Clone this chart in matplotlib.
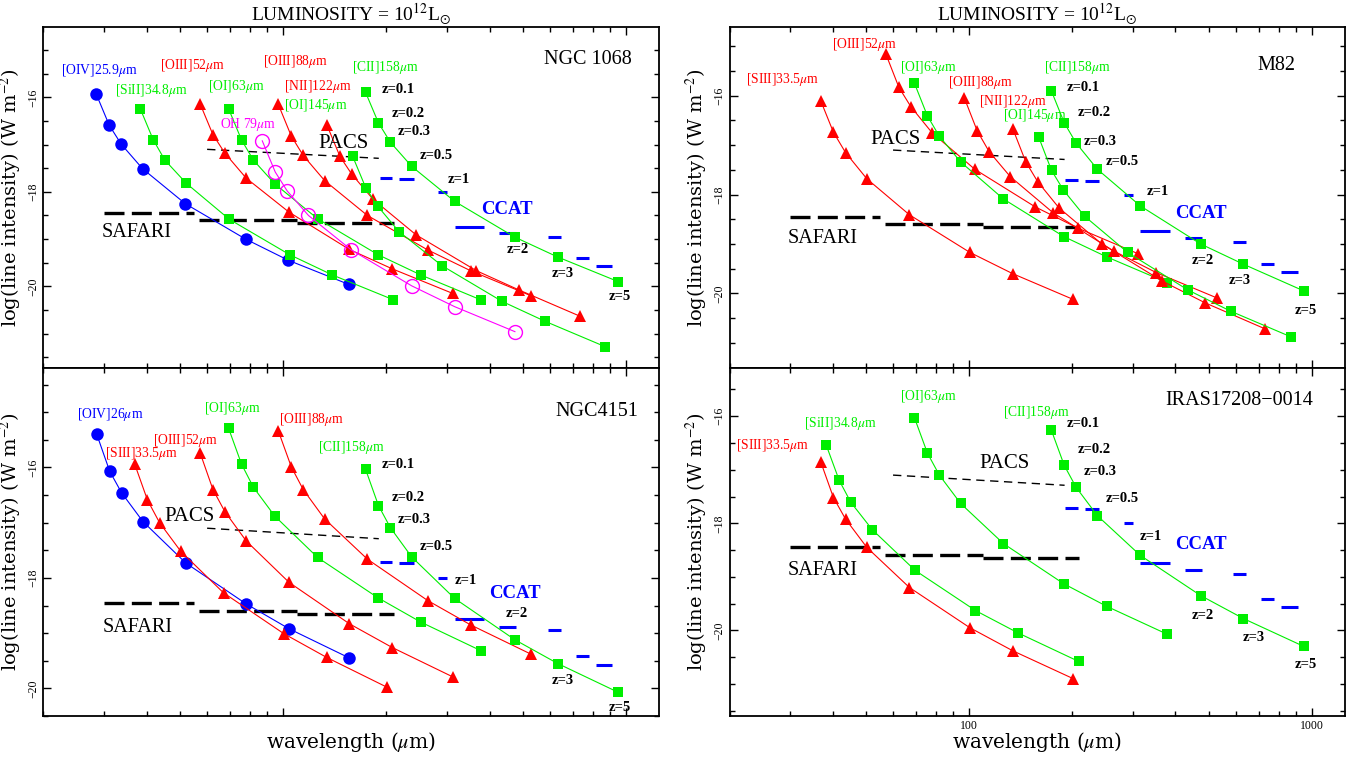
import numpy as np
import matplotlib
matplotlib.use("Agg")
import matplotlib.pyplot as plt
from matplotlib.ticker import FixedLocator, NullFormatter, FixedFormatter

plt.rcParams['font.family'] = ['Liberation Serif', 'DejaVu Serif']
plt.rcParams['mathtext.fontset'] = 'stix'

# ---------------- data ----------------
Z_LABELS = ["z=0.1", "z=0.2", "z=0.3", "z=0.5", "z=1", "z=2", "z=3", "z=5"]

# observed wavelengths (micron) of each line at z = 0.1, 0.2, 0.3, 0.5, 1, 2, 3, 5
wl_oiv259 = [28.5, 31.1, 33.7, 38.9, 51.8, 77.7, 103.6, 155.4]
wl_oiv26 = [28.6, 31.2, 33.8, 39.0, 52.0, 78.0, 104.0, 156.0]
wl_siii335 = [36.9, 40.2, 43.6, 50.3, 67.0, 100.5, 134.0, 201.0]
wl_siii348 = [38.3, 41.8, 45.2, 52.2, 69.6, 104.4, 139.2, 208.8]
wl_oiii52 = [57.2, 62.4, 67.6, 78.0, 104.0, 156.0, 208.0, 312.0]
wl_oi63 = [69.3, 75.6, 81.9, 94.5, 126.0, 189.0, 252.0, 378.0]
wl_oh79 = [86.9, 94.8, 102.7, 118.5, 158.0, 237.0, 316.0, 474.0]
wl_oiii88 = [96.8, 105.6, 114.4, 132.0, 176.0, 264.0, 352.0, 528.0]
wl_nii122 = [134.2, 146.4, 158.6, 183.0, 244.0, 366.0, 488.0, 732.0]
wl_oi145 = [159.5, 174.0, 188.5, 217.5, 290.0, 435.0, 580.0, 870.0]
wl_cii158 = [173.8, 189.6, 205.4, 237.0, 316.0, 474.0, 632.0, 948.0]

# log line intensities (W m^-2)
ngc1068_oiv = [-15.93, -16.59, -16.99, -17.51, -18.25, -19.00, -19.45, -19.96]
ngc1068_siii348 = [-16.24, -16.90, -17.33, -17.82, -18.58, -19.33, -19.76, -20.28]
ngc1068_oiii52 = [-16.13, -16.79, -17.18, -17.71, -18.43, -19.22, -19.63, -20.15]
ngc1068_oi63 = [-16.24, -16.90, -17.33, -17.83, -18.57, -19.33, -19.76, -20.29]
ngc1068_oh79 = [-16.92, -17.58, -17.98, -18.50, -19.23, -19.99, -20.43, -20.96]
ngc1068_oiii88 = [-16.15, -16.82, -17.23, -17.76, -18.50, -19.23, -19.67, -20.20]
ngc1068_nii122 = [-16.59, -17.25, -17.63, -18.16, -18.91, -19.67, -20.08, -20.63]
ngc1068_oi145 = [-17.25, -17.91, -18.30, -18.84, -19.56, -20.32, -20.74, -21.28]
ngc1068_cii = [-15.89, -16.54, -16.95, -17.46, -18.20, -18.96, -19.38, -19.90]

m82_siii335 = [-16.10, -16.74, -17.15, -17.68, -18.41, -19.17, -19.60, -20.12]
m82_oiii52 = [-15.16, -15.83, -16.22, -16.75, -17.49, -18.25, -18.68, -19.20]
m82_oi63 = [-15.75, -16.41, -16.82, -17.34, -18.09, -18.85, -19.26, -19.78]
m82_oiii88 = [-16.04, -16.71, -17.13, -17.64, -18.37, -19.14, -19.58, -20.09]
m82_nii122 = [-16.67, -17.34, -17.74, -18.27, -19.00, -19.75, -20.19, -20.72]
m82_oi145 = [-16.83, -17.51, -17.91, -18.44, -19.17, -19.93, -20.36, -20.88]
m82_cii = [-15.90, -16.55, -16.96, -17.49, -18.23, -19.00, -19.41, -19.95]

n4151_oiv26 = [-15.40, -16.07, -16.46, -16.98, -17.73, -18.47, -18.92, -19.45]
n4151_siii335 = [-15.94, -16.59, -17.00, -17.52, -18.27, -19.01, -19.44, -19.98]
n4151_oiii52 = [-15.73, -16.40, -16.80, -17.33, -18.08, -18.83, -19.26, -19.79]
n4151_oi63 = [-15.29, -15.94, -16.36, -16.88, -17.63, -18.36, -18.80, -19.32]
n4151_oiii88 = [-15.34, -15.99, -16.40, -16.93, -17.66, -18.41, -18.85, -19.38]
n4151_cii = [-16.03, -16.69, -17.09, -17.62, -18.37, -19.12, -19.55, -20.07]

iras_siii335 = [-16.85, -17.52, -17.92, -18.45, -19.20, -19.95, -20.38, -20.90]
iras_siii348 = [-16.54, -17.20, -17.61, -18.12, -18.88, -19.63, -20.05, -20.58]
iras_oi63 = [-16.03, -16.69, -17.10, -17.63, -18.38, -19.13, -19.55, -20.07]
iras_cii = [-16.26, -16.92, -17.33, -17.86, -18.60, -19.35, -19.78, -20.30]

# instrument sensitivities
pacs_wl = [60, 190]
pacs_lim = [-17.10, -17.29]
safari_wl = [(30, 55), (57, 110), (110, 210)]
safari_lim = [-18.45, -18.60, -18.65]
ccat_wl = [(191, 208), (218, 240), (283, 300), (316, 386), (426, 479),
           (591, 645), (713, 778), (815, 910)]
ccat_lim = [-17.71, -17.73, -18.00, -18.74, -18.88, -18.95, -19.41, -19.57]

RED = '#ff0000'
GREEN = '#00ee00'
BLUE = '#0000ff'
MAG = '#ff00ff'

MU = r'$\mu$m'

# ---------------- figure ----------------
fig = plt.figure(figsize=(13.55, 7.61), dpi=100)
ax_tl = fig.add_axes([0.0321, 0.5164, 0.4545, 0.4481])
ax_tr = fig.add_axes([0.5384, 0.5164, 0.4542, 0.4481])
ax_bl = fig.add_axes([0.0321, 0.0591, 0.4545, 0.4573])
ax_br = fig.add_axes([0.5384, 0.0591, 0.4542, 0.4573])


def style(ax, ylim, xlabels):
    ax.set_xscale('log')
    ax.set_xlim(20, 1250)
    ax.set_ylim(*ylim)
    ax.xaxis.set_major_locator(FixedLocator([100, 1000]))
    ax.xaxis.set_minor_locator(FixedLocator([20, 30, 40, 50, 60, 70, 80, 90,
                                             200, 300, 400, 500, 600, 700, 800, 900]))
    ax.xaxis.set_minor_formatter(NullFormatter())
    if xlabels:
        ax.xaxis.set_major_formatter(FixedFormatter(['100', '1000']))
    else:
        ax.xaxis.set_major_formatter(NullFormatter())
    ax.yaxis.set_major_locator(FixedLocator([-16, -18, -20]))
    ax.yaxis.set_minor_locator(FixedLocator(list(np.arange(-22.0, -14.0, 0.5))))
    ax.yaxis.set_major_formatter(FixedFormatter(['\u221216', '\u221218', '\u221220']))
    for lab in ax.get_yticklabels():
        lab.set_rotation(90)
        lab.set_va('center')
    ax.tick_params(which='both', direction='in', top=True, right=True,
                   labelsize=8.5, pad=3)
    ax.tick_params(which='major', length=6, width=1)
    ax.tick_params(which='minor', length=3.5, width=1)
    for s in ax.spines.values():
        s.set_linewidth(1.3)
    ax.set_ylabel('log(line intensity) (W m$^{-2}$)', fontsize=14,
                  family='DejaVu Serif')
    ax.yaxis.set_label_coords(-0.031, 0.5)


def series(ax, x, y, color, marker, ms, open_=False):
    ax.plot(x, y, '-', color=color, lw=0.8, marker=marker, ms=ms,
            mfc='none' if open_ else color, mec=color, mew=1.0 if open_ else 0)


def instruments(ax, pacs_pos, safari_pos, ccat_pos):
    ax.plot(pacs_wl, pacs_lim, color='black', lw=1.0, dashes=(6, 4))
    for (a, b), v in zip(safari_wl, safari_lim):
        ax.plot([a, b], [v, v], color='black', lw=2.4, dashes=(6, 2.2))
    for (a, b), v in zip(ccat_wl, ccat_lim):
        ax.plot([a, b], [v, v], color=BLUE, lw=2.2, solid_capstyle='butt')
    ax.text(*pacs_pos, 'PACS', fontsize=15, ha='left', va='center')
    ax.text(*safari_pos, 'SAFARI', fontsize=14.5, ha='left', va='center')
    ax.text(*ccat_pos, 'CCAT', fontsize=13.5, ha='left', va='center',
            color=BLUE, fontweight='bold')


def zlabels(ax, positions):
    for (x, y), s in zip(positions, Z_LABELS):
        ax.text(x, y, s, fontsize=10.5, fontweight='bold', ha='left', va='center')


def lab(ax, x, y, s, color):
    ax.text(x, y, s, fontsize=9.8, color=color, ha='left', va='center')


def xlab(ax):
    ax.set_xlabel('wavelength ($\\mu$m)', fontsize=14.5, family='DejaVu Serif')
    ax.xaxis.label.set_va('center')
    ax.xaxis.set_label_coords(0.5, -0.075)


TITLE = 'LUMINOSITY = 10$^{12}$L$_{\\odot}$'

# ---- NGC 1068 ----
ax = ax_tl
style(ax, (-21.73, -14.51), False)
instruments(ax, (126.7, -16.97), (29.6, -18.87), (379, -18.38))
series(ax, wl_oiv259, ngc1068_oiv, BLUE, 'o', 9)
series(ax, wl_siii348, ngc1068_siii348, GREEN, 's', 7)
series(ax, wl_oiii52, ngc1068_oiii52, RED, '^', 8)
series(ax, wl_oi63, ngc1068_oi63, GREEN, 's', 7)
series(ax, wl_oiii88, ngc1068_oiii88, RED, '^', 8)
series(ax, wl_nii122, ngc1068_nii122, RED, '^', 8)
series(ax, wl_oi145, ngc1068_oi145, GREEN, 's', 7)
series(ax, wl_cii158, ngc1068_cii, GREEN, 's', 7)
series(ax, wl_oh79, ngc1068_oh79, MAG, 'o', 10, open_=True)
lab(ax, 22.5, -15.44, '[OIV]25.9' + MU, BLUE)
lab(ax, 32.4, -15.86, '[SiII]34.8' + MU, GREEN)
lab(ax, 43.6, -15.33, '[OIII]52' + MU, RED)
lab(ax, 60.3, -15.76, '[OI]63' + MU, GREEN)
lab(ax, 87.2, -15.24, '[OIII]88' + MU, RED)
lab(ax, 100.3, -15.76, '[NII]122' + MU, RED)
lab(ax, 100.6, -16.17, '[OI]145' + MU, GREEN)
lab(ax, 159.1, -15.36, '[CII]158' + MU, GREEN)
lab(ax, 65.6, -16.58, 'OH 79' + MU, MAG)
zlabels(ax, [(193.6, -15.83), (207, -16.34), (216.3, -16.73), (250.3, -17.23),
             (301.7, -17.74), (447.7, -19.23), (604.8, -19.73), (891.6, -20.22)])
ax.text(1038, -15.20, 'NGC 1068', fontsize=14.5, ha='right', va='center')
ax.set_title(TITLE, fontsize=14, pad=4)

# ---- M82 ----
ax = ax_tr
style(ax, (-21.51, -14.61), False)
instruments(ax, (51.4, -16.88), (29.6, -18.88), (398, -18.38))
series(ax, wl_siii335, m82_siii335, RED, '^', 8)
series(ax, wl_oiii52, m82_oiii52, RED, '^', 8)
series(ax, wl_oi63, m82_oi63, GREEN, 's', 7)
series(ax, wl_oiii88, m82_oiii88, RED, '^', 8)
series(ax, wl_nii122, m82_nii122, RED, '^', 8)
series(ax, wl_oi145, m82_oi145, GREEN, 's', 7)
series(ax, wl_cii158, m82_cii, GREEN, 's', 7)
lab(ax, 22.4, -15.67, '[SIII]33.5' + MU, RED)
lab(ax, 39.7, -14.97, '[OIII]52' + MU, RED)
lab(ax, 63.0, -15.43, '[OI]63' + MU, GREEN)
lab(ax, 86.9, -15.73, '[OIII]88' + MU, RED)
lab(ax, 106.6, -16.12, '[NII]122' + MU, RED)
lab(ax, 125.6, -16.41, '[OI]145' + MU, GREEN)
lab(ax, 165.3, -15.43, '[CII]158' + MU, GREEN)
zlabels(ax, [(192.9, -15.83), (207, -16.33), (216.3, -16.93), (250, -17.34),
             (329.4, -17.94), (445, -19.33), (574, -19.74), (889.6, -20.34)])
ax.text(897, -15.39, 'M82', fontsize=14.5, ha='right', va='center')
ax.set_title(TITLE, fontsize=14, pad=4)

# ---- NGC4151 ----
ax = ax_bl
style(ax, (-20.50, -14.20), False)
instruments(ax, (45.0, -16.89), (29.7, -18.90), (399.5, -18.29))
series(ax, wl_oiv26, n4151_oiv26, BLUE, 'o', 9)
series(ax, wl_siii335, n4151_siii335, RED, '^', 8)
series(ax, wl_oiii52, n4151_oiii52, RED, '^', 8)
series(ax, wl_oi63, n4151_oi63, GREEN, 's', 7)
series(ax, wl_oiii88, n4151_oiii88, RED, '^', 8)
series(ax, wl_cii158, n4151_cii, GREEN, 's', 7)
lab(ax, 25.1, -15.04, '[OIV]26' + MU, BLUE)
lab(ax, 30.3, -15.75, '[SIII]33.5' + MU, RED)
lab(ax, 41.8, -15.51, '[OIII]52' + MU, RED)
lab(ax, 58.8, -14.93, '[OI]63' + MU, GREEN)
lab(ax, 97.4, -15.13, '[OIII]88' + MU, RED)
lab(ax, 126.0, -15.63, '[CII]158' + MU, GREEN)
zlabels(ax, [(193.5, -15.94), (207, -16.54), (216.3, -16.94), (250.3, -17.44),
             (316, -18.04), (445, -18.65), (605, -19.85), (892, -20.34)])
ax.text(1085, -14.99, 'NGC4151', fontsize=14.5, ha='right', va='center')
xlab(ax)

# ---- IRAS17208-0014 ----
ax = ax_br
style(ax, (-21.60, -15.10), True)
instruments(ax, (107.3, -16.89), (29.6, -18.89), (398, -18.39))
series(ax, wl_siii335, iras_siii335, RED, '^', 8)
series(ax, wl_siii348, iras_siii348, GREEN, 's', 7)
series(ax, wl_oi63, iras_oi63, GREEN, 's', 7)
series(ax, wl_cii158, iras_cii, GREEN, 's', 7)
lab(ax, 32.9, -16.14, '[SiII]34.8' + MU, GREEN)
lab(ax, 20.9, -16.54, '[SIII]33.5' + MU, RED)
lab(ax, 63.0, -15.64, '[OI]63' + MU, GREEN)
lab(ax, 125.6, -15.94, '[CII]158' + MU, GREEN)
zlabels(ax, [(192.9, -16.14), (207, -16.63), (216.3, -17.04), (250, -17.54),
             (315, -18.24), (445, -19.73), (628.5, -20.14), (889.6, -20.64)])
ax.text(1008.5, -15.70, 'IRAS17208\u22120014', fontsize=14.5, ha='right', va='center')
xlab(ax)

fig.savefig('out.png', dpi=100)
